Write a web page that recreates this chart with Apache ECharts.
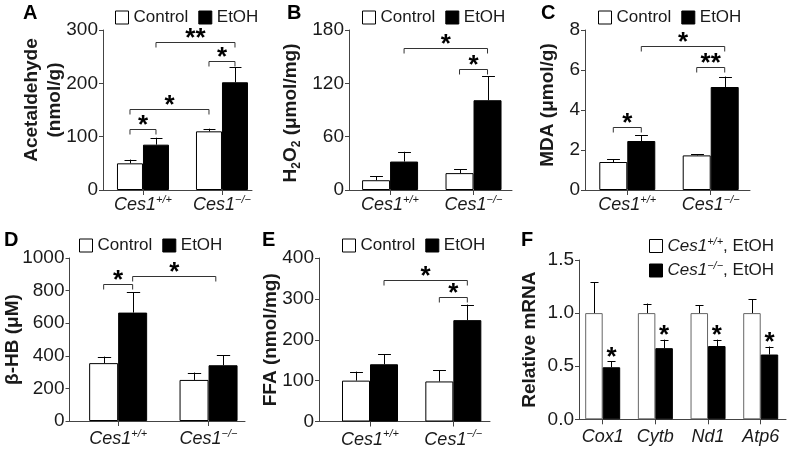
<!DOCTYPE html>
<html><head><meta charset="utf-8">
<script src="https://cdn.jsdelivr.net/npm/echarts@6/dist/echarts.min.js"></script>
<style>html,body{margin:0;padding:0;background:#fff}#c{width:787px;height:451px}</style>
</head><body><div id="c"></div>
<script>
// ---------------- data ----------------
const genotypes = ['Ces1+/+', 'Ces1\u2212/\u2212'];
const treatNames = ['Control', 'EtOH'];

const aControl = [50, 110];
const aControlSem = [7, 5];
const aEtOH = [85, 202];
const aEtOHSem = [13, 28];
const aBrackets = [[0, -1, 0, 1, 114, '*'], [0, -1, 1, -1, 152, '*'], [1, -1, 1, 1, 242, '*'], [0, 1, 1, 1, 278, '**']];

const bControl = [11, 19];
const bControlSem = [4.5, 4.5];
const bEtOH = [32, 101];
const bEtOHSem = [11, 27];
const bBrackets = [[1, -1, 1, 1, 136.5, '*'], [0, 1, 1, 1, 160, '*']];

const cControl = [1.4, 1.73];
const cControlSem = [0.14, 0.07];
const cEtOH = [2.45, 5.15];
const cEtOHSem = [0.3, 0.52];
const cBrackets = [[0, -1, 0, 1, 3.17, '*'], [1, -1, 1, 1, 6.17, '**'], [0, 1, 1, 1, 7.2, '*']];

const dControl = [355, 252];
const dControlSem = [40, 45];
const dEtOH = [665, 342];
const dEtOHSem = [125, 60];
const dBrackets = [[0, -1, 0, 1, 838, '*'], [0, 1, 1, 0.5, 891, '*']];

const eControl = [100, 98];
const eControlSem = [22, 27];
const eEtOH = [140, 248];
const eEtOHSem = [25, 38];
const eBrackets = [[1, -1, 1, 1, 304, '*'], [0, 1, 1, 1, 345, '*']];

const genes = ['Cox1', 'Cytb', 'Nd1', 'Atp6'];
const fNames = ['Ces1+/+, EtOH', 'Ces1\u2212/\u2212, EtOH'];
const fWT = [1, 1, 1, 1];
const fWTSem = [0.29, 0.09, 0.075, 0.13];
const fKO = [0.49, 0.67, 0.69, 0.61];
const fKOSem = [0.055, 0.08, 0.06, 0.075];
const fStars = ['*', '*', '*', '*'];

// ---------------- style / layout ----------------
const FONT = 'Liberation Sans, Arial, sans-serif';
const AX = '#444';
const TXT = '#1a1a1a';

const panels = [
  {letter: 'A', cats: genotypes, names: treatNames, v1: aControl, e1: aControlSem, v2: aEtOH, e2: aEtOHSem, br: aBrackets,
   yMax: 300, yInt: 100, yName: 'Acetaldehyde\n(nmol/g)',
   grid: {left: 103, top: 30, width: 149, height: 160}, xMin: -0.506, xMax: 1.38, bw: 26,
   nameGap: 36.5, namePad: [0, 0, 0, 20], legend: {left: 110, top: 4}, lp: [23, 3], lblMargin: 4},
  {letter: 'B', cats: genotypes, names: treatNames, v1: bControl, e1: bControlSem, v2: bEtOH, e2: bEtOHSem, br: bBrackets,
   yMax: 180, yInt: 60, yName: '{b|H}{sub|2}{b|O}{sub|2}{b| (\u03bcmol/mg)}',
   grid: {left: 349, top: 30, width: 163, height: 160}, xMin: -0.492, xMax: 1.461, bw: 28,
   nameGap: 46.5, namePad: [0, 6, 0, 0], legend: {left: 357, top: 4}, lp: [287, 3], lblMargin: 4},
  {letter: 'C', cats: genotypes, names: treatNames, v1: cControl, e1: cControlSem, v2: cEtOH, e2: cEtOHSem, br: cBrackets,
   yMax: 8, yInt: 2, yName: 'MDA (\u03bcmol/g)',
   grid: {left: 585, top: 30, width: 165, height: 160}, xMin: -0.507, xMax: 1.471, bw: 28,
   nameGap: 25.5, namePad: [0, 0, 0, 10], legend: {left: 593, top: 4}, lp: [541, 3], lblMargin: 4},
  {letter: 'D', cats: genotypes, names: treatNames, v1: dControl, e1: dControlSem, v2: dEtOH, e2: dEtOHSem, br: dBrackets,
   yMax: 1000, yInt: 200, yName: '\u03b2-HB (\u03bcM)',
   grid: {left: 68, top: 258, width: 177, height: 163}, xMin: -0.538, xMax: 1.403, bw: 29,
   nameGap: 45.5, namePad: [0, 0, 0, 0], legend: {left: 74, top: 232}, lp: [4, 230], lblMargin: 7},
  {letter: 'E', cats: genotypes, names: treatNames, v1: eControl, e1: eControlSem, v2: eEtOH, e2: eEtOHSem, br: eBrackets,
   yMax: 400, yInt: 100, yName: 'FFA (nmol/mg)',
   grid: {left: 319, top: 258, width: 171, height: 163.5}, xMin: -0.612, xMax: 1.44, bw: 28,
   nameGap: 36.5, namePad: [0, 0, 0, 0], legend: {left: 337, top: 232}, lp: [262, 230], lblMargin: 7},
  {letter: 'F', cats: genes, names: fNames, v1: fWT, e1: fWTSem, v2: fKO, e2: fKOSem, stars: fStars,
   yMax: 1.5, yInt: 0.5, yName: 'Relative mRNA',
   grid: {left: 579, top: 260, width: 207, height: 159.3}, xMin: -0.45, xMax: 3.48, bw: 17.5,
   nameGap: 37.5, namePad: [0, 0, 0, 0], legend: {left: 644, top: 231, orient: 'vertical'}, lp: [521, 230], lblMargin: 7,
   ctrlBorder: '#666'}
];

function richLabel(name) {
  if (name.indexOf('Ces1') === 0) {
    const rest = name.slice(4);
    const parts = rest.split(',');
    return '{i|Ces1}{s|' + parts[0] + '}' + (parts.length > 1 ? '{n|,' + parts.slice(1).join(',') + '}' : '');
  }
  return '{i|' + name + '}';
}

function errRender(side, bw) {
  return function (params, api) {
    const g = api.value(0), v = api.value(1), e = api.value(2);
    const p0 = api.coord([g, v]);
    const p1 = api.coord([g, v + e]);
    const x = Math.round(p0[0] + side * bw / 2) + 0.5;
    const cap = bw * 0.46;
    const st = {stroke: '#000', lineWidth: 1};
    return {type: 'group', children: [
      {type: 'line', shape: {x1: x, y1: p0[1], x2: x, y2: p1[1]}, style: st},
      {type: 'line', shape: {x1: x - cap / 2, y1: Math.round(p1[1]) + 0.5, x2: x + cap / 2, y2: Math.round(p1[1]) + 0.5}, style: st}
    ]};
  };
}

function bracketRender(list, bw) {
  return function (params, api) {
    const g1 = api.value(0), s1 = api.value(1), g2 = api.value(2), s2 = api.value(3), yv = api.value(4);
    const x1 = api.coord([g1, yv])[0] + s1 * bw / 2;
    const x2 = api.coord([g2, yv])[0] + s2 * bw / 2;
    const y = Math.round(api.coord([g1, yv])[1]) + 0.5;
    return {type: 'group', children: [
      {type: 'polyline', shape: {points: [[x1, y + 5], [x1, y], [x2, y], [x2, y + 5]]}, style: {stroke: '#333', lineWidth: 1, fill: null}},
      {type: 'text', x: (x1 + x2) / 2, y: y - 4, style: {text: list[params.dataIndex][5], fontSize: 26, fontWeight: 'bold', fontFamily: FONT, fill: '#000', align: 'center', verticalAlign: 'middle'}}
    ]};
  };
}

function starRender(list, bw) {
  return function (params, api) {
    const g = api.value(0), top = api.value(1);
    const p = api.coord([g, top]);
    return {type: 'text', x: p[0] + bw / 2, y: p[1] - 4, style: {text: list[params.dataIndex], fontSize: 26, fontWeight: 'bold', fontFamily: FONT, fill: '#000', align: 'center', verticalAlign: 'middle'}};
  };
}

const option = {animation: false, backgroundColor: '#fff', grid: [], xAxis: [], yAxis: [], series: [], legend: [], graphic: {elements: []}};

panels.forEach((p, i) => {
  option.grid.push(Object.assign({containLabel: false}, p.grid));
  const idx = p.cats.map((c, k) => k);
  option.xAxis.push({
    type: 'value', gridIndex: i, min: p.xMin, max: p.xMax, splitLine: {show: false},
    axisLine: {show: true, onZero: false, lineStyle: {color: AX, width: 1}},
    axisTick: {show: true, customValues: idx, length: 5, lineStyle: {color: AX}},
    axisLabel: {customValues: idx, margin: p.lblMargin, formatter: v => richLabel(p.cats[Math.round(v)]),
      rich: {
        i: {fontStyle: 'italic', fontSize: 18, fontFamily: FONT, color: TXT, lineHeight: 22},
        s: {fontStyle: 'italic', fontSize: 11, fontFamily: FONT, color: TXT, lineHeight: 22, verticalAlign: 'top'}
      }}
  });
  option.yAxis.push({
    type: 'value', gridIndex: i, min: 0, max: p.yMax, interval: p.yInt, splitLine: {show: false},
    axisLine: {show: true, onZero: false, lineStyle: {color: AX, width: 1}},
    axisTick: {show: true, length: 4, lineStyle: {color: AX}},
    axisLabel: {margin: 5, fontSize: 19, fontFamily: FONT, color: TXT,
      formatter: v => (p.yInt < 1 ? v.toFixed(1) : String(v))},
    name: p.yName, nameLocation: 'middle', nameGap: p.nameGap, nameRotate: 90, nameMoveOverlap: false,
    nameTextStyle: {fontSize: 19, fontWeight: 'bold', fontFamily: FONT, color: TXT, lineHeight: 23, padding: p.namePad,
      rich: {
        b: {fontSize: 19, fontWeight: 'bold', fontFamily: FONT, color: TXT},
        sub: {fontSize: 12, fontWeight: 'bold', fontFamily: FONT, color: TXT, verticalAlign: 'bottom', lineHeight: 23}
      }}
  });
  option.series.push({
    type: 'bar', name: p.names[0], xAxisIndex: i, yAxisIndex: i, barWidth: p.bw, barGap: '0%', silent: true,
    data: p.v1.map((v, k) => [k, v]),
    itemStyle: {color: '#fff', borderColor: p.ctrlBorder || '#000', borderWidth: 1}
  });
  option.series.push({
    type: 'bar', name: p.names[1], xAxisIndex: i, yAxisIndex: i, barWidth: p.bw, barGap: '0%', silent: true,
    data: p.v2.map((v, k) => [k, v]),
    itemStyle: {color: '#000', borderColor: '#000', borderWidth: 1}
  });
  option.series.push({
    type: 'custom', xAxisIndex: i, yAxisIndex: i, silent: true, z: 5, clip: false,
    data: p.v1.map((v, k) => [k, v, p.e1[k]]), encode: {x: 0, y: 1}, renderItem: errRender(-1, p.bw)
  });
  option.series.push({
    type: 'custom', xAxisIndex: i, yAxisIndex: i, silent: true, z: 5, clip: false,
    data: p.v2.map((v, k) => [k, v, p.e2[k]]), encode: {x: 0, y: 1}, renderItem: errRender(1, p.bw)
  });
  if (p.br) {
    option.series.push({
      type: 'custom', xAxisIndex: i, yAxisIndex: i, silent: true, z: 6, clip: false,
      data: p.br.map(b => b.slice(0, 5)), encode: {x: 0, y: 4}, renderItem: bracketRender(p.br, p.bw)
    });
  }
  if (p.stars) {
    option.series.push({
      type: 'custom', xAxisIndex: i, yAxisIndex: i, silent: true, z: 6, clip: false,
      data: p.v2.map((v, k) => [k, v + p.e2[k]]), encode: {x: 0, y: 1}, renderItem: starRender(p.stars, p.bw)
    });
  }
  option.legend.push(Object.assign({
    selectedMode: false, icon: 'rect', itemWidth: 13, itemHeight: 13, itemGap: p.legend.orient ? 6 : 10,
    data: [
      {name: p.names[0], itemStyle: {color: '#fff', borderColor: '#000', borderWidth: 1}},
      {name: p.names[1], itemStyle: {color: '#000', borderColor: '#000', borderWidth: 1}}
    ],
    formatter: n => (n.indexOf('Ces1') === 0 ? richLabel(n) : n),
    textStyle: {fontSize: 17, fontFamily: FONT, color: TXT,
      rich: {
        i: {fontStyle: 'italic', fontSize: 17, fontFamily: FONT, color: TXT, lineHeight: 20},
        s: {fontStyle: 'italic', fontSize: 11, fontFamily: FONT, color: TXT, lineHeight: 20, verticalAlign: 'top'},
        n: {fontSize: 17, fontFamily: FONT, color: TXT, lineHeight: 20}
      }}
  }, p.legend));
  option.graphic.elements.push({type: 'text', left: p.lp[0], top: p.lp[1],
    style: {text: p.letter, fontSize: 20, fontWeight: 'bold', fontFamily: FONT, fill: '#000'}});
});

const chart = echarts.init(document.getElementById('c'), null, {renderer: 'canvas'});
chart.setOption(option);
</script>
</body></html>
